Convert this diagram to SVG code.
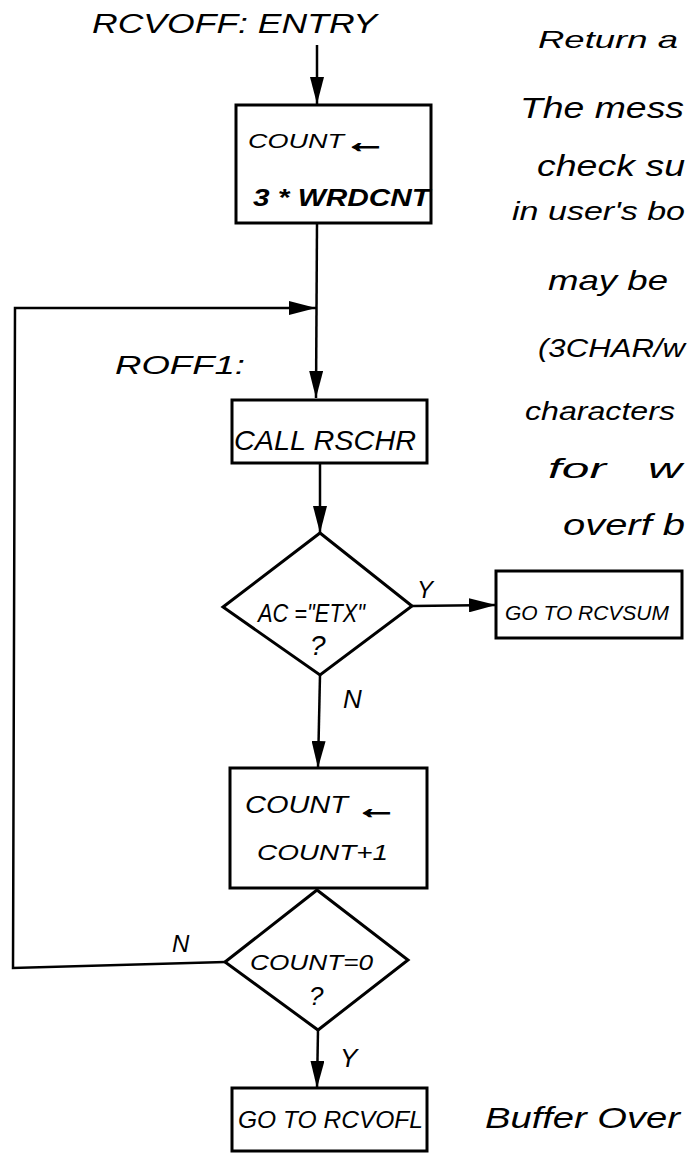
<svg xmlns="http://www.w3.org/2000/svg" width="687" height="1153" viewBox="0 0 687 1153">
<defs>
<style>
.t{font-family:"Liberation Sans","DejaVu Sans",sans-serif;font-style:italic;fill:#000}
.ar{stroke:#000;stroke-width:1.2}
.n{fill:#fff;stroke:#000;stroke-width:3}
.c{fill:none;stroke:#000;stroke-width:2.5;stroke-linejoin:miter}
</style>
<marker id="ah" markerUnits="userSpaceOnUse" markerWidth="28" markerHeight="14" refX="27" refY="7" orient="auto">
<path d="M0,0 L27,7 L0,14 Z" fill="#000"/>
</marker>
</defs>
<rect width="687" height="1153" fill="#fff"/>

<g id="entry-label">
<text class="t" x="92" y="33" font-size="27" textLength="285" lengthAdjust="spacingAndGlyphs">RCVOFF: ENTRY</text>
</g>
<g id="roff1-label">
<text class="t" x="115" y="374" font-size="26" textLength="130" lengthAdjust="spacingAndGlyphs">ROFF1:</text>
</g>

<g id="connectors">
<line class="c" x1="317" y1="45" x2="317" y2="104" marker-end="url(#ah)"/>
<line class="c" x1="317" y1="223" x2="316" y2="398" marker-end="url(#ah)"/>
<polyline class="c" points="225,962 13,968 15,308 316,308" stroke-width="3.5" marker-end="url(#ah)"/>
<line class="c" x1="320" y1="463" x2="320" y2="533" marker-end="url(#ah)"/>
<line class="c" x1="412" y1="606" x2="496" y2="605" marker-end="url(#ah)"/>
<line class="c" x1="320" y1="675" x2="318" y2="768" marker-end="url(#ah)"/>
<line class="c" x1="318" y1="1030" x2="317" y2="1088" marker-end="url(#ah)"/>
<text class="t" x="417" y="598" font-size="24">Y</text>
<text class="t" x="343" y="708" font-size="26">N</text>
<text class="t" x="172" y="952" font-size="24">N</text>
<text class="t" x="340" y="1067" font-size="26">Y</text>
</g>

<g id="box-count-init">
<rect class="n" x="236" y="105" width="195" height="118"/>
<text class="t" x="248" y="148" font-size="20" textLength="96" lengthAdjust="spacingAndGlyphs">COUNT</text>
<text class="t ar" x="344" y="152" font-size="30" textLength="43" lengthAdjust="spacingAndGlyphs">←</text>
<text class="t" x="253" y="206" font-size="24" font-weight="bold" textLength="177" lengthAdjust="spacingAndGlyphs">3 * WRDCNT</text>
</g>

<g id="box-call-rschr">
<rect class="n" x="232" y="400" width="195" height="63"/>
<text class="t" x="234" y="450" font-size="28" textLength="182" lengthAdjust="spacingAndGlyphs">CALL RSCHR</text>
</g>

<g id="dec-etx">
<polygon class="n" points="320,533 412,606 320,675 223,607"/>
<text class="t" x="258" y="622" font-size="26" textLength="107" lengthAdjust="spacingAndGlyphs">AC ="ETX"</text>
<text class="t" x="310" y="655" font-size="28">?</text>
</g>

<g id="box-rcvsum">
<rect class="n" x="496" y="571" width="186" height="67"/>
<text class="t" x="505" y="620" font-size="21" textLength="164" lengthAdjust="spacingAndGlyphs">GO TO RCVSUM</text>
</g>

<g id="box-count-inc">
<rect class="n" x="230" y="768" width="197" height="120"/>
<text class="t" x="245" y="813" font-size="23" textLength="103" lengthAdjust="spacingAndGlyphs">COUNT</text>
<text class="t ar" x="355" y="818" font-size="30" textLength="43" lengthAdjust="spacingAndGlyphs">←</text>
<text class="t" x="257" y="860" font-size="22" textLength="131" lengthAdjust="spacingAndGlyphs">COUNT+1</text>
</g>

<g id="dec-count-zero">
<polygon class="n" points="317,890 408,960 318,1030 225,962"/>
<text class="t" x="250" y="970" font-size="22" textLength="123" lengthAdjust="spacingAndGlyphs">COUNT=0</text>
<text class="t" x="309" y="1005" font-size="26">?</text>
</g>

<g id="box-rcvofl">
<rect class="n" x="232" y="1088" width="195" height="63"/>
<text class="t" x="238" y="1128" font-size="24" textLength="185" lengthAdjust="spacingAndGlyphs">GO TO RCVOFL</text>
</g>

<g id="notes">
<text class="t" x="538" y="48" font-size="24" textLength="140" lengthAdjust="spacingAndGlyphs">Return a</text>
<text class="t" x="520" y="118" font-size="30" textLength="164" lengthAdjust="spacingAndGlyphs">The mess</text>
<text class="t" x="537" y="176" font-size="30" textLength="148" lengthAdjust="spacingAndGlyphs">check su</text>
<text class="t" x="512" y="220" font-size="26" textLength="173" lengthAdjust="spacingAndGlyphs">in user's bo</text>
<text class="t" x="548" y="290" font-size="28" textLength="120" lengthAdjust="spacingAndGlyphs">may be</text>
<text class="t" x="538" y="357" font-size="26" textLength="147" lengthAdjust="spacingAndGlyphs">(3CHAR/w</text>
<text class="t" x="525" y="420" font-size="26" textLength="150" lengthAdjust="spacingAndGlyphs">characters</text>
<text class="t" x="548" y="478" font-size="28" textLength="58" lengthAdjust="spacingAndGlyphs">for</text>
<text class="t" x="648" y="478" font-size="28" textLength="34" lengthAdjust="spacingAndGlyphs">w</text>
<text class="t" x="563" y="535" font-size="30" textLength="122" lengthAdjust="spacingAndGlyphs">overf b</text>
<text class="t" x="485" y="1128" font-size="30" textLength="195" lengthAdjust="spacingAndGlyphs">Buffer Over</text>
</g>
</svg>
